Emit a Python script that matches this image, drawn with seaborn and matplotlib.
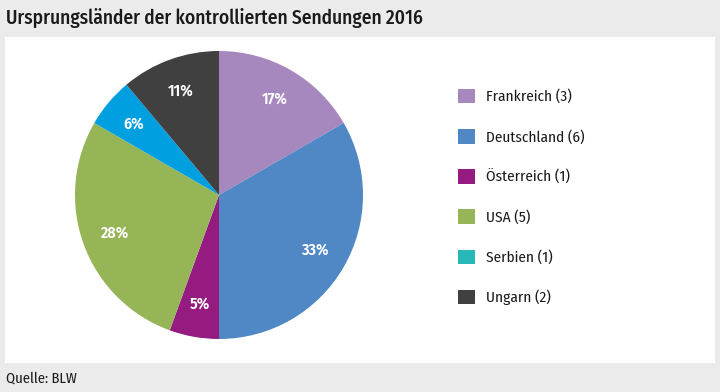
import matplotlib
matplotlib.use("Agg")
import matplotlib.pyplot as plt
from matplotlib.patches import Rectangle, Patch
import seaborn as sns

# data
countries = ["Frankreich", "Deutschland", "Österreich", "USA", "Serbien", "Ungarn"]
counts = [3, 6, 1, 5, 1, 2]
pct_labels = ["17%", "33%", "5%", "28%", "6%", "11%"]
pie_colors = ["#a688be", "#5088c6", "#951b81", "#96b557", "#009fe0", "#404040"]
legend_colors = ["#a688be", "#5088c6", "#951b81", "#96b557", "#28b7b9", "#404040"]

sns.set_theme(style="white")
plt.rcParams['font.family'] = ['Fira Sans Condensed', 'DejaVu Sans']

fig = plt.figure(figsize=(7.2, 3.92), dpi=100)
fig.patch.set_facecolor("#ebebeb")

# white panel
W, H = 720, 392
fig.add_artist(Rectangle((5 / W, (H - 363) / H), 710 / W, 326 / H,
                         transform=fig.transFigure, facecolor="white",
                         edgecolor="none", zorder=0))

fig.text(6 / W, 1 - 18 / H, "Ursprungsländer der kontrollierten Sendungen 2016",
         fontsize=14, fontweight="medium", color="#1a1a1a", va="center", ha="left")
fig.text(6 / W, 1 - 378 / H, "Quelle: BLW", fontsize=10.5, color="#1a1a1a",
         va="center", ha="left")

# pie axes
cx, cy, r = 219, 195, 144
ax = fig.add_axes([(cx - r) / W, (H - cy - r) / H, 2 * r / W, 2 * r / H])
wedges, texts = ax.pie(counts, labels=pct_labels, colors=pie_colors,
                       startangle=90, counterclock=False, labeldistance=0.77,
                       wedgeprops=dict(linewidth=0),
                       textprops=dict(color="white", fontsize=11.5,
                                      fontweight="semibold", ha="center", va="center"))
ax.set_xlim(-1, 1)
ax.set_ylim(-1, 1)
ax.set_aspect("equal")
ax.axis("off")

handles = [Patch(facecolor=c, edgecolor="none") for c in legend_colors]
names = [f"{n} ({v})" for n, v in zip(countries, counts)]
leg = fig.legend(handles, names, loc="upper left",
                 bbox_to_anchor=(444 / W, 1 - 75 / H), frameon=False,
                 fontsize=11, handlelength=1.1, handleheight=1.1,
                 handletextpad=0.75, labelspacing=1.62)
for t in leg.get_texts():
    t.set_color("#1a1a1a")

fig.savefig("out.png", dpi=100, facecolor=fig.get_facecolor())
